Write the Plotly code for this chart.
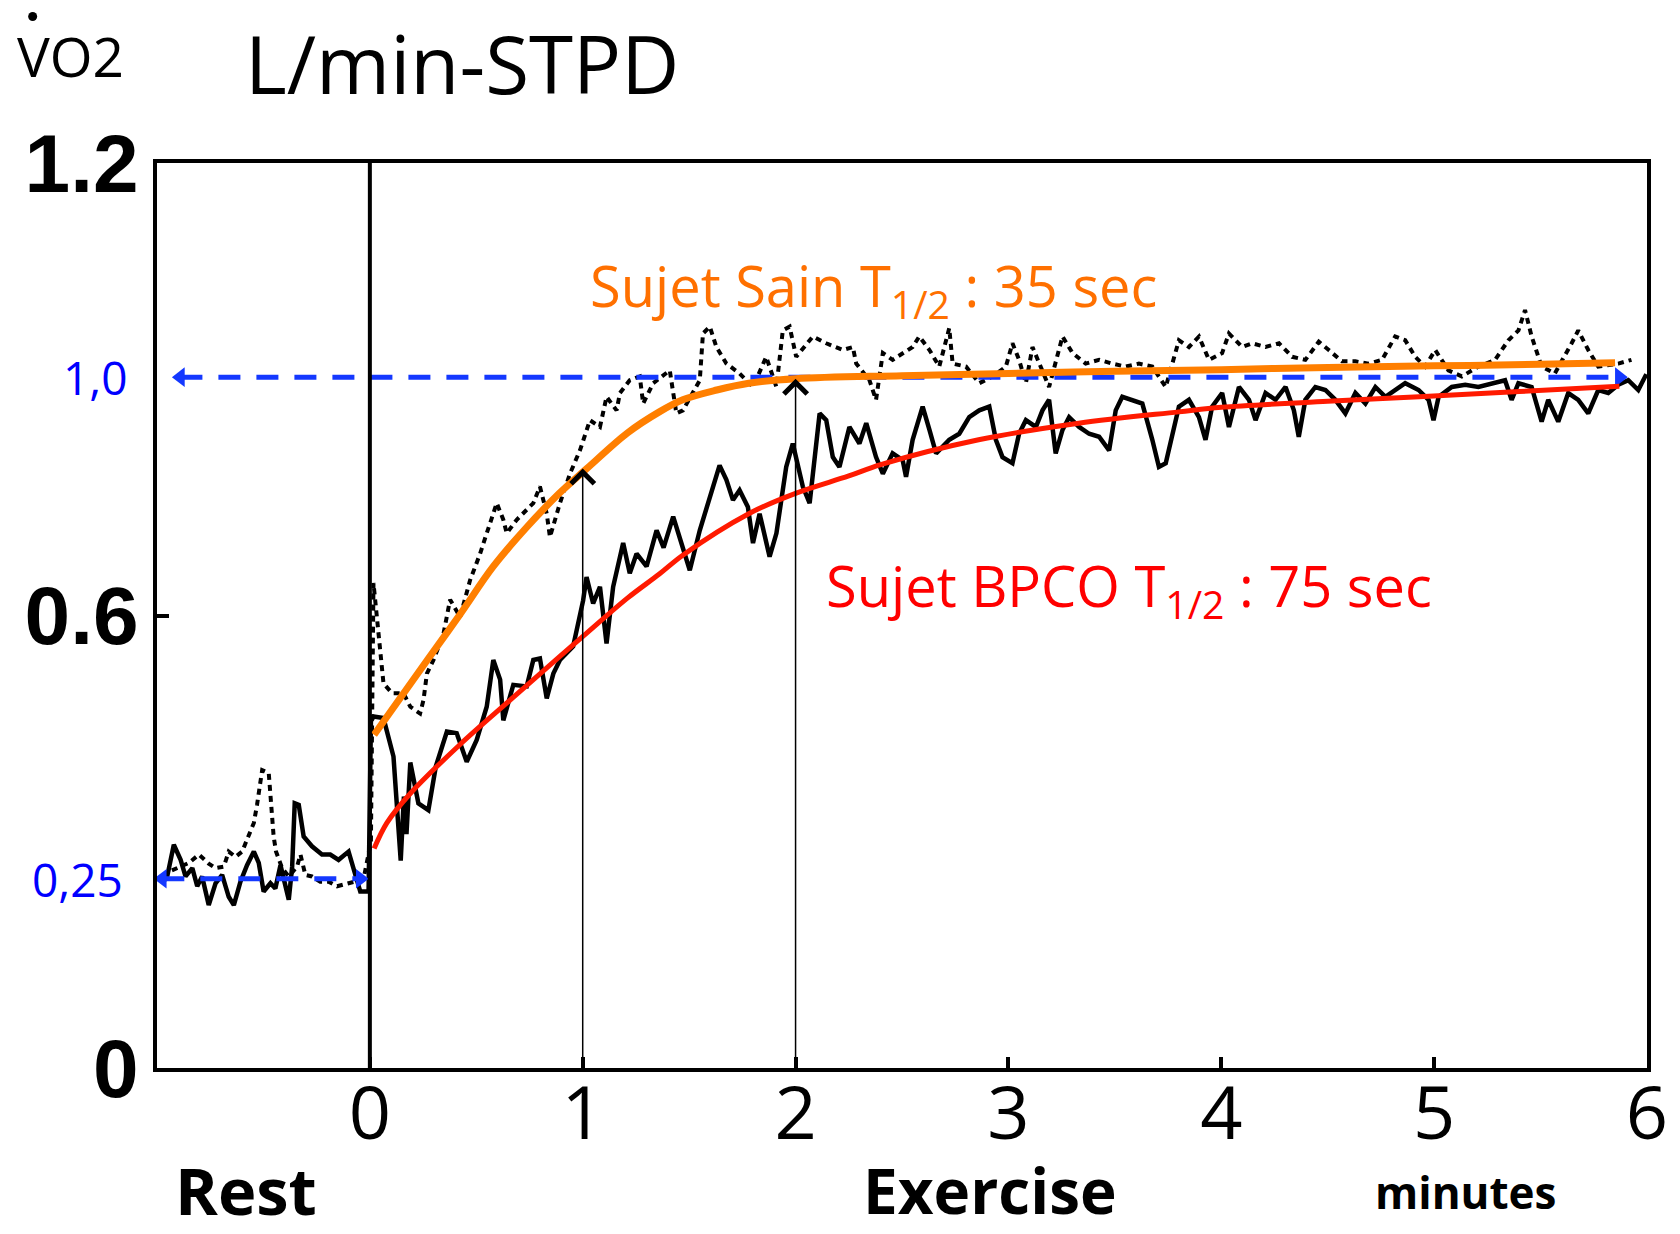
import plotly.graph_objects as go

# ---------------- data ----------------
# Healthy subject (Sujet Sain), measured trace (dotted)
sain_x = [-0.93, -0.85, -0.803, -0.757, -0.725, -0.686, -0.663, -0.631, -0.600, -0.577, -0.545, -0.530,
          -0.519, -0.506, -0.475, -0.467, -0.459, -0.452, -0.441, -0.412, -0.381, -0.342, -0.326, -0.303,
          -0.272, -0.233, -0.194, -0.154, -0.10, -0.03,
          0.005, 0.017, 0.033, 0.057, 0.064, 0.104, 0.158, 0.19, 0.236, 0.252, 0.268, 0.299, 0.346, 0.377,
          0.424, 0.471, 0.518, 0.549, 0.596, 0.627, 0.643, 0.69, 0.768, 0.799, 0.831, 0.846, 0.893, 0.94,
          0.987, 1.034, 1.081, 1.112, 1.159, 1.175, 1.221, 1.268, 1.284, 1.331, 1.409, 1.44, 1.471, 1.55,
          1.565, 1.597, 1.628, 1.675, 1.737, 1.8, 1.862, 1.91, 1.94, 1.972, 2.003, 2.081, 2.144, 2.222,
          2.269, 2.285, 2.347, 2.378, 2.41, 2.456, 2.503, 2.55, 2.581, 2.629, 2.675, 2.722, 2.738, 2.801,
          2.863, 2.925, 2.988, 3.019, 3.05, 3.082, 3.113, 3.144, 3.191, 3.254, 3.301, 3.363, 3.426, 3.488,
          3.551, 3.613, 3.676, 3.739, 3.801, 3.848, 3.895, 3.942, 4.004, 4.036, 4.098, 4.145, 4.208, 4.271,
          4.333, 4.395, 4.458, 4.505, 4.567, 4.63, 4.692, 4.755, 4.817, 4.864, 4.911, 4.958, 5.005, 5.067,
          5.13, 5.208, 5.286, 5.349, 5.396, 5.427, 5.458, 5.505, 5.567, 5.646, 5.677, 5.724, 5.771, 5.865,
          5.927]
sain_y = [0.262, 0.272, 0.283, 0.271, 0.265, 0.267, 0.287, 0.280, 0.287, 0.302, 0.325, 0.349,
          0.371, 0.395, 0.391, 0.364, 0.333, 0.307, 0.287, 0.265, 0.254, 0.267, 0.283, 0.256,
          0.254, 0.247, 0.247, 0.241, 0.245, 0.250,
          0.300, 0.643, 0.598, 0.537, 0.510, 0.497, 0.497, 0.479, 0.470, 0.488, 0.523, 0.541, 0.576, 0.621,
          0.598, 0.647, 0.682, 0.709, 0.749, 0.727, 0.709, 0.727, 0.749, 0.771, 0.735, 0.704, 0.749, 0.788,
          0.819, 0.859, 0.850, 0.890, 0.872, 0.895, 0.912, 0.917, 0.881, 0.908, 0.925, 0.868, 0.872, 0.912,
          0.974, 0.983, 0.956, 0.934, 0.921, 0.903, 0.943, 0.903, 0.978, 0.983, 0.943, 0.970, 0.961, 0.952,
          0.956, 0.934, 0.912, 0.886, 0.948, 0.939, 0.948, 0.956, 0.970, 0.952, 0.930, 0.981, 0.934, 0.930,
          0.908, 0.917, 0.930, 0.961, 0.939, 0.908, 0.956, 0.934, 0.903, 0.970, 0.948, 0.934, 0.939, 0.934,
          0.930, 0.934, 0.930, 0.903, 0.965, 0.956, 0.970, 0.939, 0.948, 0.974, 0.956, 0.961, 0.956, 0.961,
          0.943, 0.939, 0.963, 0.952, 0.937, 0.937, 0.934, 0.939, 0.970, 0.965, 0.943, 0.930, 0.952, 0.925,
          0.917, 0.930, 0.939, 0.965, 0.978, 1.005, 0.970, 0.930, 0.921, 0.961, 0.978, 0.952, 0.930, 0.934,
          0.939]

# COPD subject (Sujet BPCO), measured trace (solid)
bpco_x = [-0.975, -0.952, -0.921, -0.889, -0.866, -0.834, -0.811, -0.788, -0.757, -0.725, -0.694, -0.663,
          -0.639, -0.608, -0.577, -0.545, -0.522, -0.499, -0.467, -0.444, -0.420, -0.397, -0.381, -0.365,
          -0.353, -0.334, -0.311, -0.272, -0.225, -0.186, -0.147, -0.100, -0.068, -0.045, -0.006,
          0.005, 0.017, 0.064, 0.111, 0.136, 0.145, 0.16, 0.172, 0.19, 0.228, 0.275, 0.31, 0.362, 0.408,
          0.455, 0.502, 0.549, 0.58, 0.612, 0.627, 0.674, 0.737, 0.768, 0.799, 0.831, 0.862, 0.893, 0.955,
          1.002, 1.018, 1.049, 1.081, 1.112, 1.143, 1.19, 1.221, 1.253, 1.3, 1.347, 1.38, 1.425, 1.471,
          1.503, 1.55, 1.597, 1.643, 1.675, 1.706, 1.737, 1.776, 1.8, 1.831, 1.878, 1.91, 1.956, 1.987,
          2.034, 2.066, 2.113, 2.144, 2.175, 2.206, 2.253, 2.3, 2.332, 2.378, 2.41, 2.456, 2.503, 2.519,
          2.55, 2.597, 2.629, 2.66, 2.691, 2.722, 2.769, 2.816, 2.863, 2.91, 2.941, 2.972, 3.019, 3.05,
          3.082, 3.129, 3.16, 3.191, 3.222, 3.254, 3.285, 3.332, 3.379, 3.426, 3.473, 3.504, 3.535, 3.582,
          3.629, 3.676, 3.707, 3.739, 3.77, 3.801, 3.848, 3.895, 3.926, 3.957, 4.004, 4.036, 4.083, 4.13,
          4.161, 4.208, 4.255, 4.302, 4.341, 4.364, 4.395, 4.442, 4.489, 4.536, 4.583, 4.63, 4.677, 4.724,
          4.771, 4.817, 4.864, 4.927, 4.974, 4.997, 5.021, 5.083, 5.146, 5.208, 5.271, 5.333, 5.364, 5.396,
          5.458, 5.505, 5.536, 5.583, 5.63, 5.677, 5.724, 5.771, 5.818, 5.865, 5.912, 5.959, 5.997]
bpco_y = [0.245, 0.254, 0.296, 0.276, 0.254, 0.265, 0.241, 0.254, 0.216, 0.245, 0.256, 0.227,
          0.216, 0.247, 0.269, 0.287, 0.272, 0.234, 0.245, 0.238, 0.269, 0.245, 0.223, 0.267,
          0.351, 0.349, 0.307, 0.294, 0.283, 0.283, 0.276, 0.287, 0.258, 0.234, 0.234,
          0.460, 0.466, 0.464, 0.413, 0.300, 0.275, 0.360, 0.310, 0.405, 0.351, 0.342, 0.400, 0.446, 0.444,
          0.406, 0.435, 0.479, 0.541, 0.515, 0.461, 0.508, 0.506, 0.541, 0.543, 0.490, 0.523, 0.541, 0.559,
          0.620, 0.651, 0.616, 0.638, 0.563, 0.638, 0.696, 0.656, 0.682, 0.665, 0.713, 0.690, 0.731, 0.691,
          0.660, 0.713, 0.757, 0.799, 0.780, 0.753, 0.766, 0.744, 0.696, 0.735, 0.678, 0.709, 0.797, 0.828,
          0.771, 0.749, 0.868, 0.859, 0.810, 0.797, 0.850, 0.828, 0.855, 0.810, 0.788, 0.815, 0.806, 0.784,
          0.833, 0.877, 0.846, 0.815, 0.824, 0.833, 0.841, 0.863, 0.872, 0.877, 0.833, 0.810, 0.802, 0.841,
          0.859, 0.850, 0.872, 0.886, 0.815, 0.846, 0.863, 0.850, 0.841, 0.837, 0.819, 0.872, 0.890, 0.886,
          0.881, 0.833, 0.797, 0.802, 0.841, 0.877, 0.886, 0.863, 0.833, 0.877, 0.895, 0.850, 0.903, 0.886,
          0.859, 0.895, 0.886, 0.903, 0.872, 0.837, 0.886, 0.903, 0.899, 0.886, 0.868, 0.895, 0.881, 0.903,
          0.890, 0.899, 0.908, 0.899, 0.886, 0.859, 0.890, 0.903, 0.906, 0.903, 0.908, 0.912, 0.886, 0.908,
          0.903, 0.857, 0.886, 0.857, 0.895, 0.886, 0.868, 0.899, 0.895, 0.906, 0.912, 0.899, 0.920]

# Fitted curves
fit_sain_x = [0.02, 0.27, 0.42, 0.58, 0.74, 0.89, 1.02, 1.21, 1.36, 1.47, 1.63, 1.78, 2.0, 2.5, 3.0,
              3.5, 4.0, 4.5, 5.0, 5.5, 5.85]
fit_sain_y = [0.442, 0.541, 0.600, 0.665, 0.718, 0.762, 0.795, 0.842, 0.870, 0.886, 0.899, 0.908, 0.914,
              0.918, 0.921, 0.924, 0.926, 0.929, 0.931, 0.933, 0.935]
fit_bpco_x = [0.02, 0.08, 0.19, 0.42, 0.66, 0.89, 1.02, 1.21, 1.36, 1.47, 1.78, 2.0, 2.25, 2.4, 2.86,
              3.33, 3.8, 4.0, 4.5, 4.93, 5.4, 5.87]
fit_bpco_y = [0.291, 0.325, 0.364, 0.428, 0.488, 0.545, 0.577, 0.623, 0.655, 0.680, 0.735, 0.762, 0.785,
              0.800, 0.833, 0.855, 0.870, 0.876, 0.884, 0.890, 0.897, 0.904]

# Reference levels (blue dashed arrows)
plateau_level = 0.916
plateau_x = [-0.89, 5.87]
rest_level = 0.251
rest_x = [-0.975, -0.045]

# Half-time markers (vertical arrows)
half_x = [1, 2]
half_y = [0.795, 0.914]

x_ticks = [0, 1, 2, 3, 4, 5, 6]
y_ticks = [0, 0.6, 1.2]
y_ticktext = ["0", "0.6", "1.2"]

# ---------------- figure ----------------
W, H = 1680, 1234
L, R, T, B = 157, 31, 163, 166
PW, PH = W - L - R, H - T - B


def px(xf, yf, xanchor="center", yanchor="middle"):
    return dict(xref="paper", yref="paper", x=(xf - L) / PW, y=(H - B - yf) / PH,
                xanchor=xanchor, yanchor=yanchor)


BLUE = "#1438ff"
ORANGE = "#ff7f00"
RED = "#ff1a00"

fig = go.Figure()

fig.add_trace(go.Scatter(x=sain_x, y=sain_y, mode="lines",
                         line=dict(color="black", width=4, dash="6px,5px"), hoverinfo="skip"))
fig.add_trace(go.Scatter(x=bpco_x, y=bpco_y, mode="lines",
                         line=dict(color="black", width=4.5), hoverinfo="skip"))

# blue dashed reference lines
for xs, lvl in ((plateau_x, plateau_level), (rest_x, rest_level)):
    fig.add_trace(go.Scatter(x=xs, y=[lvl, lvl], mode="lines",
                             line=dict(color=BLUE, width=5, dash="22px,16px"), hoverinfo="skip"))
    fig.add_trace(go.Scatter(x=xs, y=[lvl, lvl], mode="markers",
                             marker=dict(symbol=["triangle-left", "triangle-right"], size=17, color=BLUE),
                             hoverinfo="skip"))

fig.add_trace(go.Scatter(x=fit_bpco_x, y=fit_bpco_y, mode="lines", line_shape="spline",
                         line=dict(color=RED, width=5), hoverinfo="skip"))
fig.add_trace(go.Scatter(x=fit_sain_x, y=fit_sain_y, mode="lines", line_shape="spline",
                         line=dict(color=ORANGE, width=7), hoverinfo="skip"))

# vertical line at exercise onset
fig.add_shape(type="line", x0=0, x1=0, y0=0, y1=1.2, xref="x", yref="y",
              line=dict(color="black", width=4))

annotations = []
for hx, hy in zip(half_x, half_y):
    annotations.append(dict(x=hx, y=hy, ax=hx, ay=0, xref="x", yref="y", axref="x", ayref="y",
                            text="", showarrow=True, arrowhead=4, arrowsize=3, arrowwidth=1.5,
                            arrowcolor="black"))

FS = "Open Sans"
annotations += [
    dict(**px(70, 56), text="VO2", showarrow=False, font=dict(family=FS, size=55, color="black")),
    dict(**px(462, 62), text="L/min-STPD", showarrow=False, font=dict(family=FS, size=80, color="black")),
    dict(**px(246, 1190), text="Rest", showarrow=False,
         font=dict(family=FS, size=65, color="black", weight="bold")),
    dict(**px(991, 1190), text="Exercise", showarrow=False,
         font=dict(family=FS, size=62, color="black", weight="bold")),
    dict(**px(1467, 1192), text="minutes", showarrow=False,
         font=dict(family=FS, size=44, color="black", weight="bold")),
    dict(**px(95, 377), text="1,0", showarrow=False, font=dict(family=FS, size=46, color="#0000ff")),
    dict(**px(77, 879), text="0,25", showarrow=False, font=dict(family=FS, size=46, color="#0000ff")),
    dict(**px(589, 288, xanchor="left"), text="Sujet Sain T<sub>1/2</sub> : 35 sec", showarrow=False,
         font=dict(family=FS, size=56, color="#ff7000")),
    dict(**px(825, 588, xanchor="left"), text="Sujet BPCO T<sub>1/2</sub> : 75 sec", showarrow=False,
         font=dict(family=FS, size=56, color="#ff0000")),
]

# dot over the V
fig.add_shape(type="circle", xref="paper", yref="paper",
              x0=(28 - L) / PW, x1=(37 - L) / PW, y0=(H - B - 21) / PH, y1=(H - B - 12) / PH,
              fillcolor="black", line=dict(width=0))

fig.update_layout(
    width=W, height=H, margin=dict(l=L, r=R, t=T, b=B),
    paper_bgcolor="white", plot_bgcolor="white", showlegend=False,
    annotations=annotations,
    xaxis=dict(range=[-1, 6], tickvals=x_ticks, ticks="inside", ticklen=11, tickwidth=4,
               tickcolor="black", showgrid=False, zeroline=False, showline=True, linecolor="black",
               linewidth=4, mirror=True, ticklabelstandoff=-22,
               tickfont=dict(family=FS, size=74, color="black")),
    yaxis=dict(range=[0, 1.2], tickvals=y_ticks, ticktext=y_ticktext, ticks="inside", ticklen=12,
               tickwidth=4, tickcolor="black", showgrid=False, zeroline=False, showline=True,
               linecolor="black", linewidth=4, mirror=True, ticklabelstandoff=-2,
               tickfont=dict(family="Liberation Sans", size=82, color="black", weight="bold")),
)

fig.write_html("out.html")
